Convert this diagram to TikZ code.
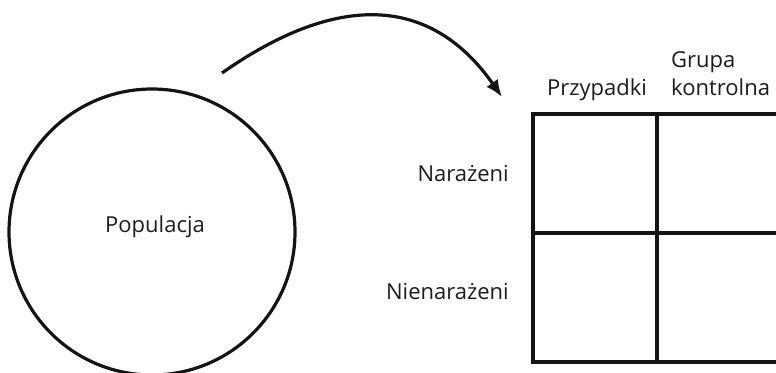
\documentclass[tikz,border=0pt]{standalone}
\usepackage{fontspec}
\setmainfont{Open Sans}
\usetikzlibrary{arrows.meta}
\definecolor{ink}{HTML}{141414}
\definecolor{txt}{HTML}{1E1B1C}
\tikzset{
  lbl/.style={text=txt, font=\fontsize{22}{26}\selectfont, inner sep=0pt},
  frame/.style={draw=ink, line width=3.2pt},
  flow/.style={draw=ink, line width=3.2pt, -{Latex[length=17pt,width=14pt]}},
}
\begin{document}
\begin{tikzpicture}[x=1pt,y=-1pt]
\useasboundingbox (0,0) rectangle (776,372);
\clip (0,0) rectangle (776,372);
% population circle
\node[frame, circle, minimum size=286pt, inner sep=0pt] (pop) at (152,232) {};
\node[lbl] (poplbl) at (155,227) {Populacja};
% table
\coordinate (tl) at (533,114);
\coordinate (br) at (800,362);
\draw[frame] (tl) rectangle (br);
\coordinate (vtop) at (657,114);
\coordinate (vbot) at (657,362);
\coordinate (hl) at (533,233);
\coordinate (hr) at (800,233);
\draw[frame] (vtop) -- (vbot);
\draw[frame] (hl) -- (hr);
% labels
\node[lbl, anchor=base] (cases) at (597,95) {Przypadki};
\node[lbl, anchor=base west] (grp) at (671,67) {Grupa};
\node[lbl, anchor=base west] (ctrl) at (671,95) {kontrolna};
\node[lbl, anchor=base east] (exp) at (509,181) {Narażeni};
\node[lbl, anchor=base east] (unexp) at (509,299) {Nienarażeni};
% arrow
\coordinate (as) at (222,73);
\coordinate (ae) at (502,97);
\draw[flow] (as) .. controls (336,-7) and (430,-6) .. (ae);
\end{tikzpicture}
\end{document}
